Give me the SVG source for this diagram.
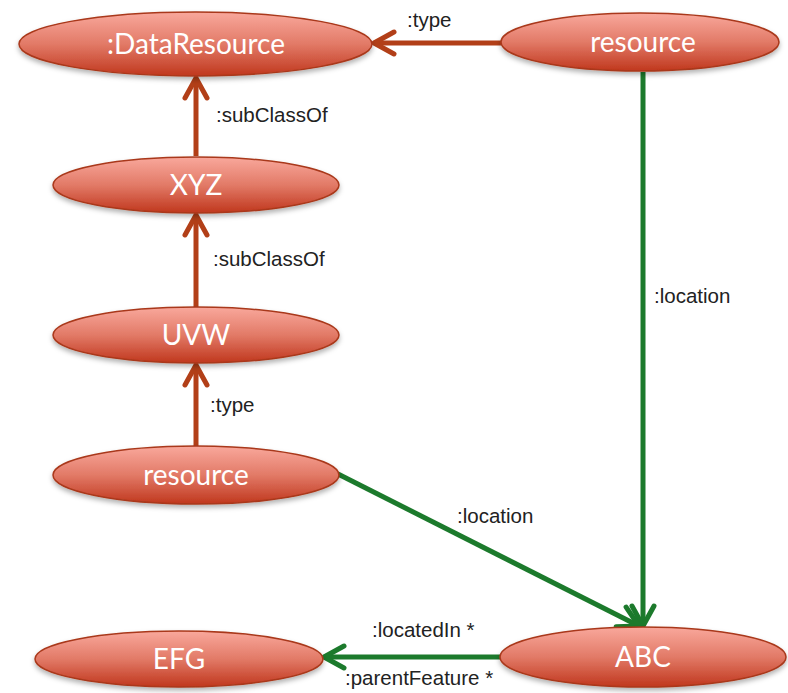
<svg xmlns="http://www.w3.org/2000/svg" width="788" height="693" viewBox="0 0 788 693">
  <defs>
    <linearGradient id="nodeFill" x1="0" y1="0" x2="0" y2="1">
      <stop offset="0" stop-color="#F9A89C"/>
      <stop offset="0.5" stop-color="#E27A67"/>
      <stop offset="1" stop-color="#C0371D"/>
    </linearGradient>
    <filter id="shadow" x="-10%" y="-20%" width="120%" height="160%">
      <feDropShadow dx="0" dy="3" stdDeviation="2.5" flood-color="#000" flood-opacity="0.3"/>
    </filter>
    <marker id="arrowBrown" markerUnits="userSpaceOnUse" viewBox="-24 -14 28 28" markerWidth="28" markerHeight="28" refX="0" refY="0" orient="auto" overflow="visible">
      <path d="M -20 -11 L 0 0 L -20 11" fill="none" stroke="#B23F18" stroke-width="5" stroke-linecap="round" stroke-linejoin="round"/>
    </marker>
    <marker id="arrowGreen" markerUnits="userSpaceOnUse" viewBox="-24 -14 28 28" markerWidth="28" markerHeight="28" refX="0" refY="0" orient="auto" overflow="visible">
      <path d="M -20 -11 L 0 0 L -20 11" fill="none" stroke="#1C7A2C" stroke-width="5" stroke-linecap="round" stroke-linejoin="round"/>
    </marker>
  </defs>
  <style>
    .node ellipse { fill: url(#nodeFill); stroke: #A9381A; stroke-width: 1.5; filter: url(#shadow); }
    .node text { font-family: Lato, "Open Sans", "Liberation Sans", sans-serif; font-size: 28px; fill: #FFFFFF; text-anchor: middle; }
    .brown { stroke: #B23F18; stroke-width: 5; fill: none; marker-end: url(#arrowBrown); }
    .green { stroke: #1C7A2C; stroke-width: 5; fill: none; marker-end: url(#arrowGreen); }
    .label { font-family: "Liberation Sans", Arial, sans-serif; font-size: 20.5px; fill: #222222; }
  </style>

  <rect width="788" height="693" fill="#FFFFFF"/>

  <g id="connectors">
    <line class="brown" x1="501" y1="43" x2="374" y2="43"/>
    <line class="brown" x1="196" y1="156" x2="196" y2="78"/>
    <line class="brown" x1="196" y1="307" x2="196" y2="215"/>
    <line class="brown" x1="196" y1="446" x2="196" y2="365"/>
    <line class="green" x1="643" y1="72" x2="643" y2="626"/>
    <line class="green" x1="338" y1="474" x2="639" y2="626"/>
    <line class="green" x1="500" y1="657" x2="324" y2="657"/>

    <text class="label" x="407" y="27">:type</text>
    <text class="label" x="216" y="122">:subClassOf</text>
    <text class="label" x="213" y="266">:subClassOf</text>
    <text class="label" x="210" y="412">:type</text>
    <text class="label" x="654" y="303">:location</text>
    <text class="label" x="457" y="523">:location</text>
    <text class="label" x="372" y="637">:locatedIn *</text>
    <text class="label" x="345" y="685">:parentFeature *</text>
  </g>

  <g id="node-dataresource" class="node">
    <ellipse cx="195.5" cy="44" rx="176.5" ry="32"/>
    <text x="196" y="54">:DataResource</text>
  </g>
  <g id="node-resource-top" class="node">
    <ellipse cx="640" cy="42" rx="139" ry="29"/>
    <text x="643" y="52">resource</text>
  </g>
  <g id="node-xyz" class="node">
    <ellipse cx="196" cy="185" rx="143" ry="28"/>
    <text x="196" y="195">XYZ</text>
  </g>
  <g id="node-uvw" class="node">
    <ellipse cx="196" cy="335" rx="143" ry="28"/>
    <text x="196" y="345">UVW</text>
  </g>
  <g id="node-resource-bottom" class="node">
    <ellipse cx="196" cy="475" rx="143" ry="29"/>
    <text x="196" y="485">resource</text>
  </g>
  <g id="node-efg" class="node">
    <ellipse cx="179" cy="659" rx="144" ry="28"/>
    <text x="179" y="669">EFG</text>
  </g>
  <g id="node-abc" class="node">
    <ellipse cx="643" cy="657" rx="143" ry="30"/>
    <text x="643" y="667">ABC</text>
  </g>
</svg>
